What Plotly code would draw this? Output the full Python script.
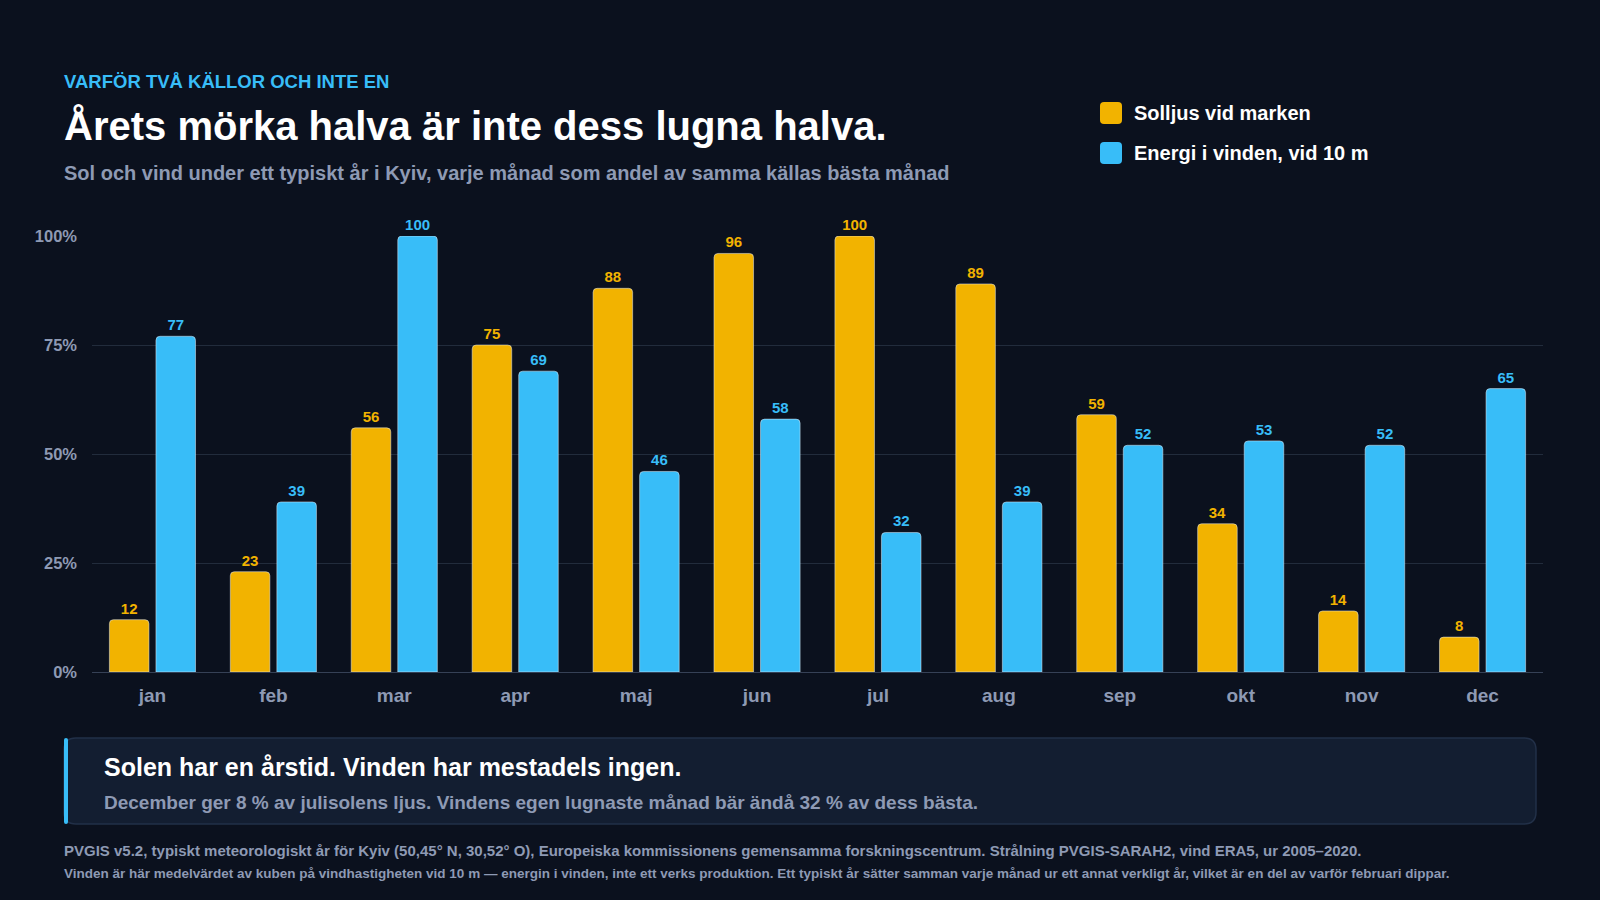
import plotly.graph_objects as go

# data (percent of each source's best month)
months = ["jan", "feb", "mar", "apr", "maj", "jun", "jul", "aug", "sep", "okt", "nov", "dec"]
sun = [12, 23, 56, 75, 88, 96, 100, 89, 59, 34, 14, 8]
wind = [77, 39, 100, 69, 46, 58, 32, 39, 52, 53, 52, 65]
y_ticks = [0, 25, 50, 75, 100]
y_tick_labels = ["0%", "25%", "50%", "75%", "100%"]

SUN = "#f2b300"
WIND = "#38bdf8"
BG = "#0b111e"
MUTED = "#8e9ab4"
FONT = "Liberation Sans, Arial, sans-serif"

W, H = 1600, 900
L, R, T, B = 92, 57, 236, 228
PW, PH = W - L - R, H - T - B


def px(x):
    return (x - L) / PW


def py(y):
    return (H - B - y) / PH


def rounded(x0, y0, x1, y1, r):
    # rounded rectangle path, pixel coords converted to paper
    pts = [("M", x0 + r, y0), ("L", x1 - r, y0), ("Q", x1, y0, x1, y0 + r), ("L", x1, y1 - r),
           ("Q", x1, y1, x1 - r, y1), ("L", x0 + r, y1), ("Q", x0, y1, x0, y1 - r),
           ("L", x0, y0 + r), ("Q", x0, y0, x0 + r, y0)]
    out = []
    for p in pts:
        coords = p[1:]
        s = " ".join(f"{px(coords[i]):.5f},{py(coords[i + 1]):.5f}" for i in range(0, len(coords), 2))
        out.append(f"{p[0]} {s}")
    return " ".join(out) + " Z"


fig = go.Figure()
fig.add_trace(go.Bar(x=months, y=sun, name="Solljus vid marken", marker_color=SUN,
                     text=sun, texttemplate="%{text}", textposition="outside", cliponaxis=False,
                     textfont=dict(color=SUN, size=15, family=FONT, weight="bold")))
fig.add_trace(go.Bar(x=months, y=wind, name="Energi i vinden, vid 10 m", marker_color=WIND,
                     text=wind, texttemplate="%{text}", textposition="outside", cliponaxis=False,
                     textfont=dict(color=WIND, size=15, family=FONT, weight="bold")))

fig.update_layout(
    width=W, height=H,
    margin=dict(l=L, r=R, t=T, b=B),
    paper_bgcolor=BG, plot_bgcolor=BG,
    font=dict(family=FONT, color=MUTED),
    barmode="group", bargap=0.23, bargroupgap=0.15, barcornerradius=4,
    showlegend=False,
    xaxis=dict(showgrid=False, showline=False, ticks="", ticklabelstandoff=10,
               tickfont=dict(size=19, color=MUTED, weight="bold")),
    yaxis=dict(range=[0, 100], tickvals=y_ticks, ticktext=y_tick_labels,
               gridcolor="#222c3c", gridwidth=1, zeroline=True, zerolinecolor="#364156",
               zerolinewidth=1, showline=False, ticks="", ticklabelstandoff=14,
               tickfont=dict(size=16.5, color=MUTED, weight="bold")),
)

texts = [
    (62, 81, "VARFÖR TVÅ KÄLLOR OCH INTE EN", 18.5, WIND),
    (62, 126, "Årets mörka halva är inte dess lugna halva.", 40, "#ffffff"),
    (62, 173, "Sol och vind under ett typiskt år i Kyiv, varje månad som andel av samma källas bästa månad", 20, MUTED),
    (102, 767, "Solen har en årstid. Vinden har mestadels ingen.", 25, "#ffffff"),
    (102, 802, "December ger 8 % av julisolens ljus. Vindens egen lugnaste månad bär ändå 32 % av dess bästa.", 19, MUTED),
    (62, 850, "PVGIS v5.2, typiskt meteorologiskt år för Kyiv (50,45° N, 30,52° O), Europeiska kommissionens gemensamma forskningscentrum. Strålning PVGIS-SARAH2, vind ERA5, ur 2005–2020.", 15, MUTED),
    (62, 873, "Vinden är här medelvärdet av kuben på vindhastigheten vid 10 m — energin i vinden, inte ett verks produktion. Ett typiskt år sätter samman varje månad ur ett annat verkligt år, vilket är en del av varför februari dippar.", 13.5, MUTED),
]
for x, y, t, s, c in texts:
    fig.add_annotation(x=px(x), y=py(y), xref="paper", yref="paper", text=t, showarrow=False,
                       xanchor="left", yanchor="middle",
                       font=dict(size=s, color=c, family=FONT, weight="bold"))

# legend drawn by hand
for y, name, c in [(113, "Solljus vid marken", SUN), (153, "Energi i vinden, vid 10 m", WIND)]:
    fig.add_shape(type="path", xref="paper", yref="paper", path=rounded(1100, y - 11, 1122, y + 11, 4),
                  fillcolor=c, line_width=0)
    fig.add_annotation(x=px(1132), y=py(y), xref="paper", yref="paper", text=name, showarrow=False,
                       xanchor="left", yanchor="middle",
                       font=dict(size=20, color="#ffffff", family=FONT, weight="bold"))

# callout box
fig.add_shape(type="path", xref="paper", yref="paper", path=rounded(64, 738, 1536, 824, 12),
              fillcolor="#131e31", line=dict(color="#223048", width=1.5), layer="below")
fig.add_shape(type="path", xref="paper", yref="paper", path=rounded(64, 738, 68, 824, 2),
              fillcolor=WIND, line_width=0)

fig.write_html("out.html", config={"displayModeBar": False},
               post_script="document.body.style.margin='0';document.body.style.background='#0b111e';")
